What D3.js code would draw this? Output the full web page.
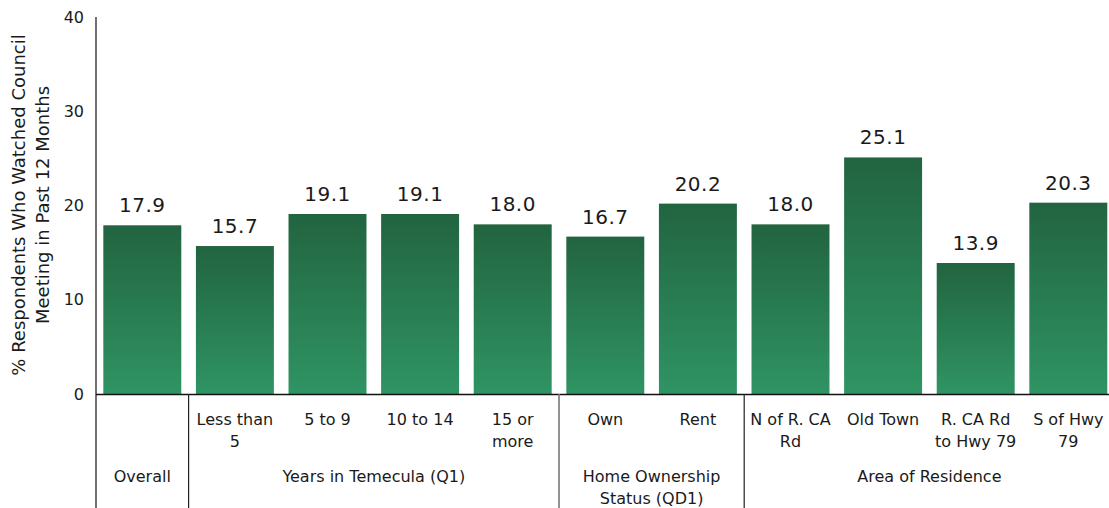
<!DOCTYPE html>
<html>
<head>
<meta charset="utf-8">
<script src="https://cdn.jsdelivr.net/npm/d3@7"></script>
<style>
  html, body { margin: 0; padding: 0; background: #fff; }
  svg { display: block; font-family: "DejaVu Sans", sans-serif; }
</style>
</head>
<body>
<svg id="chart" width="1109" height="508"></svg>
<script>
// Survey results: share of respondents who watched a council meeting
const categories = ["Overall", "Less than\n5", "5 to 9", "10 to 14", "15 or\nmore",
                    "Own", "Rent", "N of R. CA\nRd", "Old Town", "R. CA Rd\nto Hwy 79", "S of Hwy\n79"];
const values = [17.9, 15.7, 19.1, 19.1, 18.0, 16.7, 20.2, 18.0, 25.1, 13.9, 20.3];
const groupNames = ["Overall", "Years in Temecula (Q1)", "Home Ownership\nStatus (QD1)", "Area of Residence"];
const groupSizes = [1, 4, 2, 4];
const yTicks = [0, 10, 20, 30, 40];
const yTitle = ["% Respondents Who Watched Council", "Meeting in Past 12 Months"];

const W = 1109, H = 508;
const plotLeft = 96, plotTop = 17, plotBottom = 394;
const band = 92.6;

const svg = d3.select("#chart");

const x = d3.scaleBand()
  .domain(d3.range(categories.length))
  .range([plotLeft, plotLeft + band * categories.length])
  .paddingInner(0.158)
  .paddingOuter(0.079);

const y = d3.scaleLinear().domain([0, 40]).range([plotBottom, plotTop]);

// vertical gradient applied per bar
const defs = svg.append("defs");
const grad = defs.append("linearGradient")
  .attr("id", "barFill")
  .attr("x1", 0).attr("y1", 0).attr("x2", 0).attr("y2", 1);
grad.append("stop").attr("offset", "0%").attr("stop-color", "#226440");
grad.append("stop").attr("offset", "100%").attr("stop-color", "#2f9464");

// bars
svg.append("g").selectAll("rect")
  .data(values)
  .join("rect")
  .attr("x", (d, i) => x(i))
  .attr("width", x.bandwidth())
  .attr("y", d => y(d))
  .attr("height", d => y(0) - y(d))
  .attr("fill", "url(#barFill)");

// value labels
svg.append("g").selectAll("text")
  .data(values)
  .join("text")
  .attr("x", (d, i) => x(i) + x.bandwidth() / 2)
  .attr("y", d => y(d) - 13)
  .attr("text-anchor", "middle")
  .attr("font-size", 20)
  .attr("letter-spacing", "0.5px")
  .attr("fill", "#1a1a1a")
  .text(d => d.toFixed(1));

// y axis
const yAxis = d3.axisLeft(y).tickValues(yTicks).tickSize(0).tickPadding(12);
const yg = svg.append("g").attr("transform", `translate(${plotLeft},0)`).call(yAxis);
yg.select(".domain").remove();
yg.selectAll("text").attr("font-size", 16).attr("fill", "#1a1a1a")
  .attr("font-family", "DejaVu Sans, sans-serif");

svg.append("line")
  .attr("x1", plotLeft).attr("x2", plotLeft)
  .attr("y1", plotTop).attr("y2", H)
  .attr("stroke", "#111").attr("stroke-width", 1.2);

// baseline
svg.append("line")
  .attr("x1", plotLeft).attr("x2", W)
  .attr("y1", plotBottom + 0.5).attr("y2", plotBottom + 0.5)
  .attr("stroke", "#111").attr("stroke-width", 1.5);

// y axis title
const yt = svg.append("text")
  .attr("transform", `translate(25,205) rotate(-90)`)
  .attr("text-anchor", "middle")
  .attr("font-size", 18)
  .attr("fill", "#1a1a1a");
yTitle.forEach((t, i) => {
  yt.append("tspan").attr("x", 0).attr("dy", i === 0 ? 0 : 24).text(t);
});

// category labels (a single-member group shows its name only in the group row)
const singleStarts = new Set();
{
  let s = 0;
  groupSizes.forEach((n, gi) => {
    if (n === 1 && groupNames[gi] === categories[s]) singleStarts.add(s);
    s += n;
  });
}
const catG = svg.append("g");
categories.forEach((c, i) => {
  if (singleStarts.has(i)) return;
  const cx = x(i) + x.bandwidth() / 2;
  const t = catG.append("text")
    .attr("x", cx)
    .attr("y", 425)
    .attr("text-anchor", "middle")
    .attr("font-size", 16)
    .attr("fill", "#1a1a1a");
  c.split("\n").forEach((line, k) => {
    t.append("tspan").attr("x", cx).attr("dy", k === 0 ? 0 : 22).text(line);
  });
});

// group labels and separators
let start = 0;
groupNames.forEach((g, gi) => {
  const n = groupSizes[gi];
  const x0 = plotLeft + band * start;
  const x1 = plotLeft + band * (start + n);
  const cx = (x0 + x1) / 2;
  const t = svg.append("text")
    .attr("x", cx)
    .attr("y", 482)
    .attr("text-anchor", "middle")
    .attr("font-size", 16)
    .attr("fill", "#1a1a1a");
  g.split("\n").forEach((line, k) => {
    t.append("tspan").attr("x", cx).attr("dy", k === 0 ? 0 : 22).text(line);
  });
  if (gi > 0) {
    svg.append("line")
      .attr("x1", x0).attr("x2", x0)
      .attr("y1", plotBottom).attr("y2", H)
      .attr("stroke", gi === 2 ? "#777" : "#222")
      .attr("stroke-width", gi === 2 ? 1.6 : 1.2);
  }
  start += n;
});
</script>
</body>
</html>
